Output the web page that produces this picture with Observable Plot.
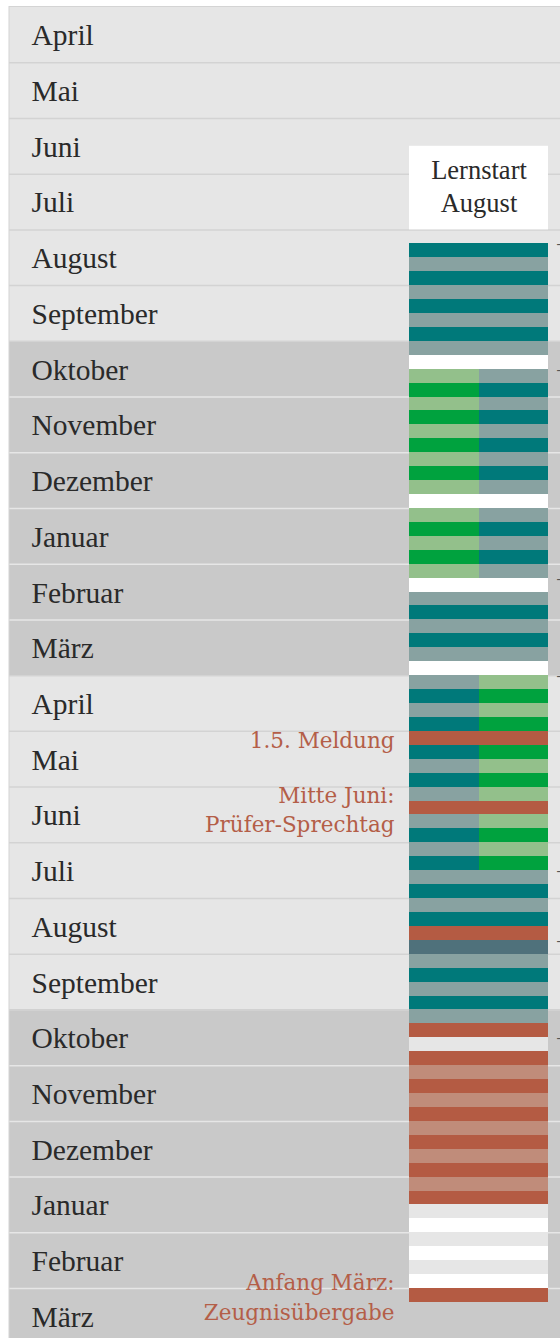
<!DOCTYPE html>
<html>
<head>
<meta charset="utf-8">
<script src="https://cdn.jsdelivr.net/npm/d3@7"></script>
<script src="https://cdn.jsdelivr.net/npm/@observablehq/plot@0.6"></script>
<style>
  html, body { margin: 0; padding: 0; background: #ffffff; }
  #chart svg { display: block; }
</style>
</head>
<body>
<div id="chart"></div>
<script>
// ---- Data -------------------------------------------------------------
const months = ["April","Mai","Juni","Juli","August","September","Oktober","November","Dezember","Januar","Februar","März",
                "April","Mai","Juni","Juli","August","September","Oktober","November","Dezember","Januar","Februar","März"];
const monthShade = ["hell","hell","hell","hell","hell","hell","dunkel","dunkel","dunkel","dunkel","dunkel","dunkel",
                    "hell","hell","hell","hell","hell","hell","dunkel","dunkel","dunkel","dunkel","dunkel","dunkel"];
const weeksPerMonth = 4;

// Week stripes (quarter-month slots), starting at slot 17 (2nd week of August)
const firstWeek = 17;
const leftWeeks = [
  "teal","grau","teal","grau","teal","grau","teal","grau","weiss",
  "hellgruen","gruen","hellgruen","gruen","hellgruen","gruen","hellgruen","gruen","hellgruen","weiss",
  "hellgruen","gruen","hellgruen","gruen","hellgruen","weiss",
  "grau","teal","grau","teal","grau","weiss",
  "grau","teal","grau","teal","rot","teal","grau","teal","grau","rot","grau","teal","grau","teal",
  "grau","teal","grau","teal","rot","schiefer","grau","teal","grau","teal","grau","rot","hellgrau",
  "rot","lachs","rot","lachs","rot","lachs","rot","lachs","rot","lachs","rot",
  "hellgrau","weiss","hellgrau","weiss","hellgrau","weiss","rot"
];
const rightWeeks = [
  "teal","grau","teal","grau","teal","grau","teal","grau","weiss",
  "grau","teal","grau","teal","grau","teal","grau","teal","grau","weiss",
  "grau","teal","grau","teal","grau","weiss",
  "grau","teal","grau","teal","grau","weiss",
  "hellgruen","gruen","hellgruen","gruen","rot","gruen","hellgruen","gruen","hellgruen","rot","hellgruen","gruen","hellgruen","gruen",
  "grau","teal","grau","teal","rot","schiefer","grau","teal","grau","teal","grau","rot","hellgrau",
  "rot","lachs","rot","lachs","rot","lachs","rot","lachs","rot","lachs","rot",
  "hellgrau","weiss","hellgrau","weiss","hellgrau","weiss","rot"
];
const phaseStarts = [17, 26, 41, 48, 62, 67, 74];

const noteWeeks = [52, 57, 92];
const noteTexts = ["1.5. Meldung", "Mitte Juni:\nPrüfer-Sprechtag", "Anfang März:\nZeugnisübergabe"];

const boxWeeks = [10, 16];
const boxText = "Lernstart\nAugust";

// ---- Colour table -----------------------------------------------------
const codes  = ["hell","dunkel","linie-hell","linie-dunkel","teal","grau","gruen","hellgruen","rot","lachs","schiefer","weiss","hellgrau"];
const colors = ["#e6e6e6","#c9c9c9","#d3d3d3","#e6e6e6","#00797a","#88a2a1","#00a23e","#93c08b","#b45b43","#c08c7a","#4f717b","#ffffff","#e6e6e6"];

// ---- Derived tables ---------------------------------------------------
const rows = months.map((m, i) => ({m, i, shade: monthShade[i]}));
const lines = d3.range(1, months.length).map(i => ({
  i, code: (monthShade[i - 1] === "dunkel" && monthShade[i] === "dunkel") ? "linie-dunkel" : "linie-hell"
}));
const stripes = [];
leftWeeks.forEach((c, k) => stripes.push({week: firstWeek + k, side: 0, code: c}));
rightWeeks.forEach((c, k) => stripes.push({week: firstWeek + k, side: 1, code: c}));
const notes = noteWeeks.map((w, k) => ({week: w, text: noteTexts[k]}));

const slotPx = 13.93;
const topPx = 6.5;

const chart = Plot.plot({
  width: 560,
  height: 1338,
  marginTop: 6,
  marginLeft: 9,
  marginRight: -2,
  marginBottom: 0,
  style: {fontFamily: "'Liberation Serif', serif", background: "#ffffff"},
  x: {type: "linear", domain: [0, 2], range: [409, 548], axis: null},
  y: {type: "linear", domain: [0, months.length * weeksPerMonth], range: [topPx, topPx + months.length * weeksPerMonth * slotPx], axis: null},
  color: {type: "categorical", domain: codes, range: colors},
  marks: [
    Plot.rect(rows, {y1: d => d.i * weeksPerMonth, y2: d => (d.i + 1) * weeksPerMonth, fill: "shade", shapeRendering: "crispEdges"}),
    Plot.ruleY(lines, {y: d => d.i * weeksPerMonth, stroke: "code", strokeWidth: 1.5}),
    Plot.rect([0], {y1: () => 0, y2: () => months.length * weeksPerMonth, fill: "none", stroke: "#d4d4d4", strokeWidth: 1}),
    Plot.rect([boxWeeks], {x1: () => 0, x2: () => 2, y1: d => d[0], y2: d => d[1], fill: "#ffffff"}),
    Plot.text([boxText], {x: () => 1, y: () => (boxWeeks[0] + boxWeeks[1]) / 2, text: d => d, dy: -3.5, fontFamily: "'Liberation Serif', serif", fontSize: 26.5, lineHeight: 1.24, fill: "#2a2a2a", textAnchor: "middle"}),
    Plot.rect(stripes, {x1: d => d.side, x2: d => d.side + 1, y1: "week", y2: d => d.week + 1, fill: "code", shapeRendering: "crispEdges"}),
    Plot.text(rows, {y: d => d.i * weeksPerMonth + 2, text: "m", frameAnchor: "left", dx: 22, dy: 1, textAnchor: "start", fontFamily: "'Liberation Serif', serif", fontSize: 29.5, fill: "#2a2a2a"}),
    Plot.text(notes, {x: () => 0, y: d => d.week + 0.5, text: "text", textAnchor: "end", dx: -15, dy: 0, fontFamily: "'DejaVu Serif', serif", fontSize: 21.5, lineHeight: 1.38, fill: "#b45e48"}),
    Plot.text(phaseStarts, {x: () => 2, y: d => d, text: () => "-", dx: 8, textAnchor: "start", fontSize: 14, fill: "#555"})
  ]
});
document.getElementById("chart").appendChild(chart);
</script>
</body>
</html>
